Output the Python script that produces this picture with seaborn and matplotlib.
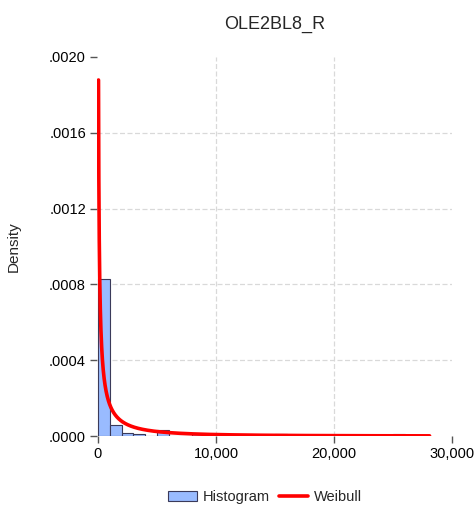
import numpy as np
import pandas as pd
import matplotlib
matplotlib.use("Agg")
import matplotlib.pyplot as plt
import seaborn as sns
from matplotlib.patches import Patch
from matplotlib.lines import Line2D

# ---- data ----
bin_left = [0, 1000, 2000, 3000, 4000, 5000, 6000, 7000, 8000, 9000, 10000, 11000, 12000,
            13000, 14000, 15000, 16000, 17000, 18000, 19000, 20000, 21000, 22000, 23000,
            24000, 25000]
bin_density = [0.00083, 0.000058, 0.000015, 0.000012, 0.0, 0.00003, 0.0, 0.0, 0.00001, 0.0,
               0.0, 0.0, 0.0, 0.0, 0.0, 0.00001, 0.0, 0.0, 0.0, 0.0, 0.0, 0.0, 0.0, 0.0,
               0.0, 0.00001]
bin_width = 1000
weibull_shape = 0.45
weibull_scale = 1000.0
curve_start = 47
curve_end = 28100
x_ticks = [0, 10000, 20000, 30000]
x_ticklabels = ["0", "10,000", "20,000", "30,000"]
y_ticks = [0.0, 0.0004, 0.0008, 0.0012, 0.0016, 0.0020]
y_ticklabels = [".0000", ".0004", ".0008", ".0012", ".0016", ".0020"]
title = "OLE2BL8_R"

sns.set_theme(style="ticks")
plt.rcParams["font.family"] = ["Liberation Sans", "DejaVu Sans"]

fig = plt.figure(figsize=(4.77, 5.17), dpi=100)
ax = fig.add_axes([97 / 477, 1 - 436 / 517, (452 - 97) / 477, (436 - 57) / 517])

# dashed grid at inner tick positions (drawn as reference lines under the marks)
for xv in x_ticks[1:-1]:
    ax.axvline(xv, color="#d9d9d9", linestyle=(0, (4, 2)), linewidth=0.9, zorder=1)
for yv in y_ticks[1:-1]:
    ax.axhline(yv, color="#d9d9d9", linestyle=(0, (4, 2)), linewidth=0.9, zorder=1)

df = pd.DataFrame({"x": np.array(bin_left) + bin_width / 2, "w": bin_density})
edges = list(bin_left) + [bin_left[-1] + bin_width]
sns.histplot(data=df, x="x", weights="w", bins=edges, stat="count",
             color="#99bbff", edgecolor="#3a3a5a", linewidth=0.8, alpha=1.0, ax=ax, zorder=3)

xc = np.geomspace(curve_start, curve_end, 600)
k, lam = weibull_shape, weibull_scale
yc = (k / lam) * (xc / lam) ** (k - 1) * np.exp(-(xc / lam) ** k)
sns.lineplot(x=xc, y=yc, color="#ff0000", linewidth=2.6, ax=ax, zorder=4, sort=False)

ax.set_xlim(-80, 30000)
ax.set_ylim(0, 0.0020)
ax.set_xticks(x_ticks)
ax.set_xticklabels(x_ticklabels, fontsize=10.5)
ax.set_yticks(y_ticks)
ax.set_yticklabels(y_ticklabels, fontsize=10.5)

for s in ax.spines.values():
    s.set_visible(False)

ax.tick_params(axis="both", direction="out", length=5, width=1,
               color="#555555", labelcolor="black", pad=3, bottom=True, left=True)

ax.set_xlabel("")
ax.set_ylabel("Density", fontsize=11, labelpad=20)
ax.set_title(title, fontsize=13, pad=20)

handles = [Patch(facecolor="#99bbff", edgecolor="#3a3a5a", linewidth=0.8, label="Histogram"),
           Line2D([0], [0], color="#ff0000", linewidth=2.6, label="Weibull")]
fig.legend(handles=handles, loc="lower center", bbox_to_anchor=(265 / 477, 0.0), ncol=2,
           frameon=False, fontsize=10.5, handlelength=2.0, handletextpad=0.4, columnspacing=0.6)

fig.savefig("out.png", dpi=100)
